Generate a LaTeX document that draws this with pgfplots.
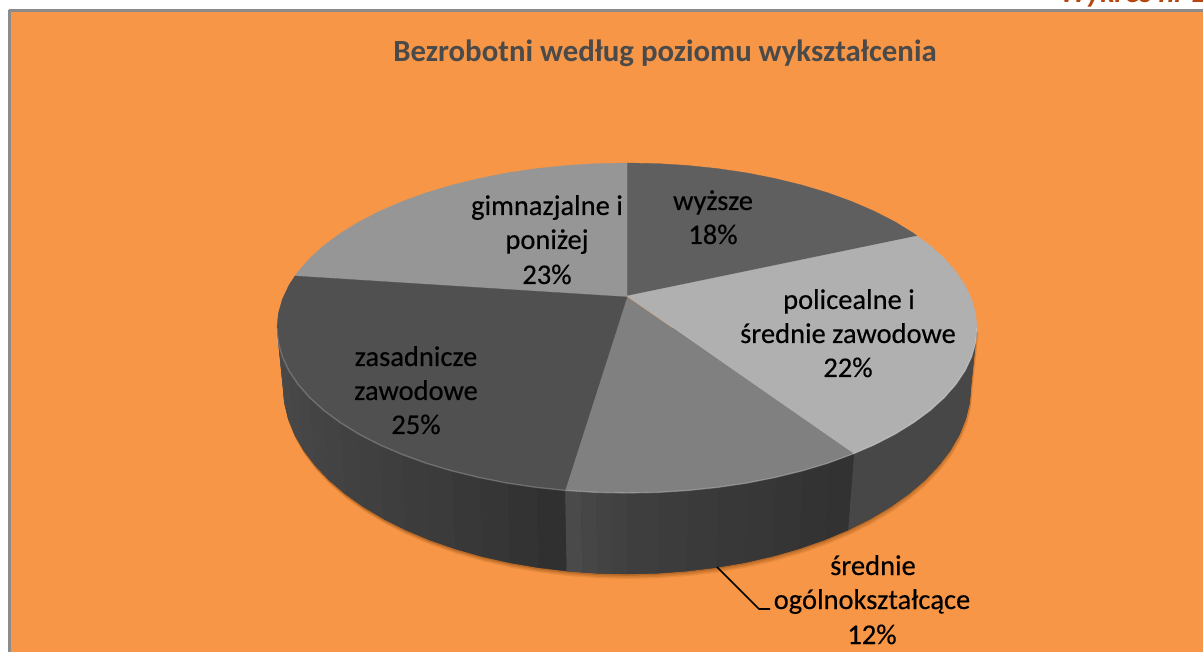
\documentclass[border=0pt]{standalone}
\usepackage{pgfplots}
\usepackage{pgfplotstable}
\usepackage{fontspec}
\setmainfont{Carlito}
\newfontfamily\lblfont[FakeBold=0.35]{Carlito}
\pgfplotsset{compat=1.18}
\definecolor{bgor}{HTML}{F79646}
\definecolor{frm}{HTML}{8C8C8C}
\definecolor{ttl}{HTML}{4A4A4A}
\definecolor{wyk}{HTML}{B5460F}
\definecolor{shd}{HTML}{8A4A10}
\pgfplotstableread{
x y
977 328
975.7 342.4
971.7 356.6
965.1 370.7
955.9 384.4
944.2 397.7
930.1 410.5
913.7 422.6
895.1 434.1
874.5 444.7
854 453.5
827.8 463.2
802 470.9
774.9 477.5
746.7 483.1
717.6 487.4
687.8 490.5
657.5 492.4
627 493
596.5 492.4
565 490.4
536.4 487.4
507.3 483.1
479.1 477.5
452 470.9
426.2 463.2
402 454.4
379.5 444.7
358.9 434.1
340.3 422.6
323.9 410.5
309.8 397.7
298.1 384.4
288.9 370.7
282.3 356.6
278.3 342.4
277 328
}\toparc
\pgfplotstableread{
x y
977 328
971 386
969.7 402.4
965.8 418.6
959.3 434.7
950.3 450.3
938.8 465.4
924.9 480
908.8 493.8
890.5 506.8
870.2 518.9
848.1 530
824.3 540
799 548.8
772.4 556.4
744.6 562.7
716 567.6
686.7 571.1
657 573.3
627 574
597 573.3
567.3 571.1
538 567.6
509.4 562.7
481.6 556.4
455 548.8
429.7 540
405.9 530
383.8 518.9
363.5 506.8
345.2 493.8
329.1 480
315.2 465.4
303.7 450.3
294.7 434.7
288.2 418.6
284.3 402.4
283 386
277 328
}\botarc
\newcommand\Q[5]{\addplot[fill=black!#1,draw=none] coordinates {#2 #3 #4 #5} -- cycle;}
\begin{document}
\begin{tikzpicture}
\useasboundingbox (0,0) rectangle (1203pt,652pt);
\clip (0,0) rectangle (1203pt,652pt);
\begin{axis}[at={(0,0)},anchor=south west,scale only axis,width=1203pt,height=652pt,
  xmin=0,xmax=1203,ymin=0,ymax=652,y dir=reverse,hide axis,clip=false,line join=round]
% background and frame
\addplot[fill=bgor,draw=none] coordinates {(9,652)(9,10)(1203,10)(1203,652)} -- cycle;
\addplot[draw=frm,line width=3pt] coordinates {(9.5,652)(9.5,10.5)(1203,10.5)};
% soft shadow
\addplot[fill=shd,draw=none,opacity=.15,yshift=-5pt,xshift=1.5pt] table {\botarc} -- cycle;
\addplot[fill=shd,draw=none,opacity=.22,yshift=-3.5pt,xshift=1pt] table {\botarc} -- cycle;
\addplot[fill=shd,draw=none,opacity=.35,yshift=-1.8pt] table {\botarc} -- cycle;
% base of the side
\addplot[fill=black!76,draw=black!76,line width=.3pt] table {\botarc} -- cycle;
% side: right part
\addplot[fill=black!72,draw=none] coordinates {(977,328)(975.7,342.4)(971.7,356.6)(965.1,370.7)(955.9,384.4)(944.2,397.7)(930.1,410.5)(913.7,422.6)(895.1,434.1)(874.5,444.7)(854,453.5)
 (848.1,530)(870.2,518.9)(890.5,506.8)(908.8,493.8)(924.9,480)(938.8,465.4)(950.3,450.3)(959.3,434.7)(965.8,418.6)(969.7,402.4)(971,386)} -- cycle;
% side: middle part
\Q{80.5}{(854,453.5)}{(827.8,463.2)}{(824.3,540)}{(848.1,530)}
\Q{80}{(827.8,463.2)}{(802,470.9)}{(799,548.8)}{(824.3,540)}
\Q{79.3}{(802,470.9)}{(774.9,477.5)}{(772.4,556.4)}{(799,548.8)}
\Q{78.6}{(774.9,477.5)}{(746.7,483.1)}{(744.6,562.7)}{(772.4,556.4)}
\Q{78}{(746.7,483.1)}{(717.6,487.4)}{(716,567.6)}{(744.6,562.7)}
\Q{77.3}{(717.6,487.4)}{(687.8,490.5)}{(686.7,571.1)}{(716,567.6)}
\Q{76.5}{(687.8,490.5)}{(657.5,492.4)}{(657,573.3)}{(686.7,571.1)}
\Q{75.5}{(657.5,492.4)}{(627,493)}{(627,574)}{(657,573.3)}
\Q{74.5}{(627,493)}{(612,492.9)}{(612,573.8)}{(627,574)}
\Q{73.7}{(612,492.9)}{(596.5,492.4)}{(597,573.3)}{(612,573.8)}
\Q{72.5}{(596.5,492.4)}{(581,491.7)}{(582,572.5)}{(597,573.3)}
\Q{71}{(581,491.7)}{(565,490.4)}{(566.5,571)}{(582,572.5)}
% side: left part
\Q{81}{(565,490.4)}{(536.4,487.4)}{(538,567.6)}{(566.5,571)}
\Q{80}{(536.4,487.4)}{(507.3,483.1)}{(509.4,562.7)}{(538,567.6)}
\Q{79}{(507.3,483.1)}{(479.1,477.5)}{(481.6,556.4)}{(509.4,562.7)}
\Q{78}{(479.1,477.5)}{(452,470.9)}{(455,548.8)}{(481.6,556.4)}
\Q{77}{(452,470.9)}{(426.2,463.2)}{(429.7,540)}{(455,548.8)}
\Q{76.3}{(426.2,463.2)}{(402,454.4)}{(405.9,530)}{(429.7,540)}
\Q{75.6}{(402,454.4)}{(379.5,444.7)}{(383.8,518.9)}{(405.9,530)}
\Q{75}{(379.5,444.7)}{(358.9,434.1)}{(363.5,506.8)}{(383.8,518.9)}
\Q{74.4}{(358.9,434.1)}{(340.3,422.6)}{(345.2,493.8)}{(363.5,506.8)}
\Q{73.8}{(340.3,422.6)}{(323.9,410.5)}{(329.1,480)}{(345.2,493.8)}
\Q{73.2}{(323.9,410.5)}{(309.8,397.7)}{(315.2,465.4)}{(329.1,480)}
\Q{72.7}{(309.8,397.7)}{(298.1,384.4)}{(303.7,450.3)}{(315.2,465.4)}
\Q{72.2}{(298.1,384.4)}{(288.9,370.7)}{(294.7,434.7)}{(303.7,450.3)}
\Q{71.7}{(288.9,370.7)}{(282.3,356.6)}{(288.2,418.6)}{(294.7,434.7)}
\Q{71.2}{(282.3,356.6)}{(278.3,342.4)}{(284.3,402.4)}{(288.2,418.6)}
\Q{71}{(278.3,342.4)}{(277,328)}{(283,386)}{(284.3,402.4)}
% top slices
\addplot[fill={rgb,255:red,95;green,95;blue,95},draw={rgb,255:red,95;green,95;blue,95},line width=.3pt] coordinates {(627,297)(627,163)(657.5,163.6)(687.8,165.5)(717.6,168.6)(746.7,172.9)(774.9,178.5)(802,185.1)(827.8,192.8)(852,201.6)(874.5,211.3)(895.1,221.9)(913.7,233.4)(917,236)} -- cycle;
\addplot[fill={rgb,255:red,128;green,128;blue,128},draw={rgb,255:red,128;green,128;blue,128},line width=.3pt] coordinates {(627,297)(854,453.5)(827.8,463.2)(802,470.9)(774.9,477.5)(746.7,483.1)(717.6,487.4)(687.8,490.5)(657.5,492.4)(627,493)(596.5,492.4)(565,490.4)} -- cycle;
\addplot[fill={rgb,255:red,176;green,176;blue,176},draw={rgb,255:red,176;green,176;blue,176},line width=.3pt] coordinates {(627,296)(917,236)(930.1,245.5)(944.2,258.3)(955.9,271.6)(965.1,285.3)(971.7,299.4)(975.7,313.6)(977,328)(975.7,342.4)(971.7,356.6)(965.1,370.7)(955.9,384.4)(944.2,397.7)(930.1,410.5)(913.7,422.6)(895.1,434.1)(874.5,444.7)(854,453.5)} -- cycle;
\addplot[fill={rgb,255:red,150;green,150;blue,150},draw={rgb,255:red,150;green,150;blue,150},line width=.3pt] coordinates {(627,297)(295,276)(298.1,271.6)(309.8,258.3)(323.9,245.5)(340.3,233.4)(358.9,221.9)(379.5,211.3)(402,201.6)(426.2,192.8)(452,185.1)(479.1,178.5)(507.3,172.9)(536.4,168.6)(566.2,165.5)(596.5,163.6)(627,163)} -- cycle;
\addplot[fill={rgb,255:red,80;green,80;blue,80},draw={rgb,255:red,80;green,80;blue,80},line width=.3pt] coordinates {(627,297)(565,490.4)(536.4,487.4)(507.3,483.1)(479.1,477.5)(452,470.9)(426.2,463.2)(402,454.4)(379.5,444.7)(358.9,434.1)(340.3,422.6)(323.9,410.5)(309.8,397.7)(298.1,384.4)(288.9,370.7)(282.3,356.6)(278.3,342.4)(277,328)(278.3,313.6)(282.3,299.4)(288.9,285.3)(295,276)} -- cycle;
% rim highlight
\addplot[draw=white,opacity=.2,line width=1.4pt] table {\toparc};
% leader
\addplot[draw=black,line width=1.6pt] coordinates {(717,567)(759,609)(770,609)};
% texts
\node[anchor=base,font=\bfseries\fontsize{30.8}{34}\selectfont,text=ttl] at (axis cs:665,62) {Bezrobotni według poziomu wykształcenia};
\node[anchor=base west,font=\bfseries\itshape\fontsize{30}{34}\selectfont,text=wyk] at (axis cs:1056,3) {Wykres nr 2};
\def\lab#1#2#3{\node[anchor=base,font=\lblfont\fontsize{28.5}{34}\selectfont,text=black] at (axis cs:#1,#2) {#3};}
\lab{713}{210}{wyższe}
\lab{713}{244}{18\%}
\lab{547}{215}{gimnazjalne i}
\lab{547}{249}{poniżej}
\lab{547}{284}{23\%}
\lab{849}{309}{policealne i}
\lab{848}{343}{średnie zawodowe}
\lab{848}{377}{22\%}
\lab{416}{366}{zasadnicze}
\lab{416}{400}{zawodowe}
\lab{416}{434}{25\%}
\lab{873}{575}{średnie}
\lab{872}{609}{ogólnokształcące}
\lab{872}{644}{12\%}
\end{axis}
\end{tikzpicture}
\end{document}
